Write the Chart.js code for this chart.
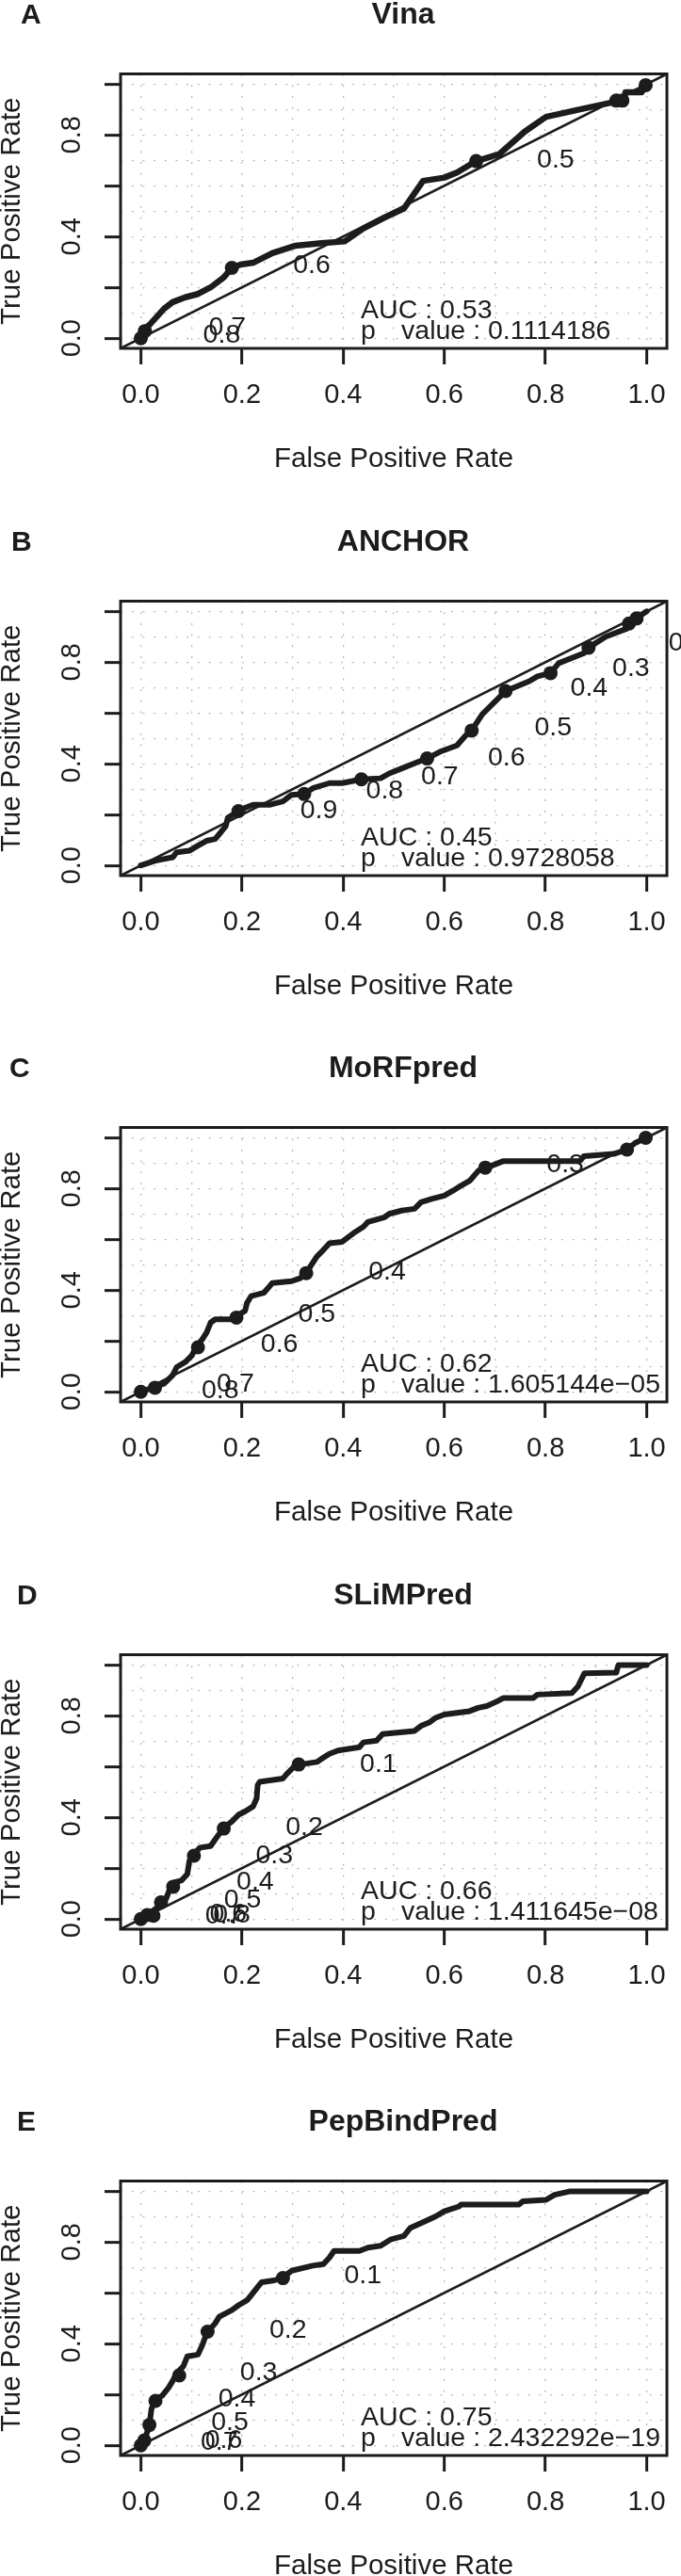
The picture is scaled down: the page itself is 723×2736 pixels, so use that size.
<!DOCTYPE html>
<html>
<head>
<meta charset="utf-8">
<script src="https://cdn.jsdelivr.net/npm/chart.js@4.4.1/dist/chart.umd.min.js"></script>
<style>
  html, body { margin: 0; padding: 0; background: #fff; }
  body { width: 723px; height: 2736px; overflow: hidden; position: relative; }
  canvas.panel { position: absolute; left: 0; }
</style>
</head>
<body>
<script>
// ROC panels A-E
const tickValues = [0, 0.2, 0.4, 0.6, 0.8, 1.0];
const gridValues = [0, 0.1, 0.2, 0.3, 0.4, 0.5, 0.6, 0.7, 0.8, 0.9, 1.0];
const xTickLabels = ["0.0", "0.2", "0.4", "0.6", "0.8", "1.0"];
const yTickLabels = ["0.0", "", "0.4", "", "0.8", ""];
const diagonal = [-0.04, 1.04];

const panelLetters = ["A", "B", "C", "D", "E"];
const panelTitles = ["Vina", "ANCHOR", "MoRFpred", "SLiMPred", "PepBindPred"];
const aucValues = ["0.53", "0.45", "0.62", "0.66", "0.75"];
const pValues = ["0.1114186", "0.9728058", "1.605144e\u221205", "1.411645e\u221208", "2.432292e\u221219"];

// [fpr, tpr]
const vinaRoc = [[0,0],[0.004,0.032],[0.017,0.052],[0.046,0.116],[0.063,0.142],[0.088,0.161],[0.113,0.174],
  [0.138,0.2],[0.164,0.239],[0.18,0.277],[0.197,0.29],[0.222,0.297],[0.26,0.335],[0.306,0.364],[0.357,0.374],
  [0.403,0.381],[0.44,0.432],[0.482,0.475],[0.52,0.51],[0.558,0.619],[0.6,0.632],[0.625,0.652],[0.663,0.697],
  [0.709,0.725],[0.759,0.813],[0.801,0.871],[0.86,0.897],[0.948,0.935],[0.956,0.942],[0.958,0.968],[0.99,0.968],[1,1]];
const vinaCuts = [[0,0],[0.008,0.028],[0.18,0.277],[0.663,0.697],[0.94,0.935],[0.952,0.935],[0.998,0.996]];
const vinaCutLabels = [["0.7",0.171,0.042],["0.8",0.160,0.010],["0.6",0.338,0.286],["0.5",0.820,0.701]];

const anchorRoc = [[0,0],[0.029,0.019],[0.063,0.032],[0.071,0.052],[0.096,0.058],[0.113,0.078],[0.130,0.097],
  [0.147,0.104],[0.155,0.123],[0.168,0.155],[0.172,0.188],[0.193,0.214],[0.206,0.227],[0.222,0.239],[0.256,0.239],
  [0.281,0.252],[0.298,0.278],[0.323,0.281],[0.340,0.304],[0.373,0.324],[0.398,0.324],[0.436,0.339],[0.474,0.343],
  [0.491,0.362],[0.516,0.382],[0.549,0.408],[0.566,0.421],[0.591,0.447],[0.625,0.472],[0.642,0.511],[0.654,0.531],
  [0.675,0.595],[0.705,0.654],[0.721,0.686],[0.768,0.725],[0.784,0.744],[0.810,0.757],[0.826,0.796],[0.876,0.835],
  [0.885,0.857],[0.919,0.900],[0.961,0.932],[0.973,0.964],[1,1]];
const anchorCuts = [[0.193,0.214],[0.323,0.281],[0.436,0.339],[0.566,0.421],[0.654,0.531],[0.721,0.686],
  [0.810,0.757],[0.885,0.857],[0.965,0.952],[0.98,0.972]];
const anchorCutLabels = [["0.9",0.352,0.216],["0.8",0.482,0.294],["0.7",0.591,0.350],["0.6",0.723,0.423],
  ["0.5",0.815,0.540],["0.4",0.886,0.696],["0.3",0.969,0.773],["0.2",1.08,0.875]];

const morfRoc = [[0,0],[0.029,0.019],[0.046,0.032],[0.063,0.065],[0.071,0.097],[0.088,0.117],[0.101,0.143],
  [0.109,0.175],[0.122,0.208],[0.130,0.233],[0.138,0.272],[0.147,0.285],[0.180,0.285],[0.189,0.298],[0.206,0.318],
  [0.210,0.350],[0.218,0.376],[0.243,0.389],[0.252,0.409],[0.260,0.428],[0.298,0.435],[0.315,0.447],[0.331,0.480],
  [0.348,0.532],[0.361,0.558],[0.373,0.584],[0.398,0.590],[0.411,0.610],[0.424,0.629],[0.440,0.649],[0.449,0.668],
  [0.482,0.687],[0.491,0.700],[0.516,0.713],[0.541,0.720],[0.554,0.746],[0.575,0.759],[0.600,0.772],[0.617,0.791],
  [0.633,0.811],[0.650,0.830],[0.667,0.869],[0.684,0.882],[0.717,0.908],[0.868,0.908],[0.876,0.927],[0.935,0.936],
  [0.961,0.953],[0.977,0.979],[1,1]];
const morfCuts = [[0,0],[0.028,0.016],[0.113,0.175],[0.189,0.292],[0.327,0.467],[0.681,0.882],[0.961,0.953],[0.998,0.999]];
const morfCutLabels = [["0.8",0.157,0.004],["0.7",0.187,0.029],["0.6",0.274,0.184],["0.5",0.348,0.305],
  ["0.4",0.487,0.470],["0.3",0.839,0.892]];

const slimRoc = [[0,0],[0.017,0.022],[0.038,0.054],[0.050,0.080],[0.059,0.126],[0.067,0.145],[0.080,0.151],
  [0.092,0.177],[0.096,0.229],[0.105,0.255],[0.117,0.281],[0.138,0.287],[0.147,0.313],[0.164,0.359],[0.180,0.384],
  [0.193,0.410],[0.206,0.423],[0.222,0.443],[0.229,0.475],[0.231,0.527],[0.235,0.540],[0.281,0.553],[0.289,0.572],
  [0.306,0.605],[0.348,0.618],[0.357,0.630],[0.373,0.650],[0.390,0.663],[0.432,0.676],[0.440,0.695],[0.466,0.702],
  [0.478,0.728],[0.541,0.740],[0.554,0.760],[0.570,0.773],[0.583,0.792],[0.600,0.805],[0.650,0.818],[0.667,0.831],
  [0.684,0.838],[0.705,0.857],[0.717,0.870],[0.776,0.870],[0.784,0.883],[0.852,0.889],[0.864,0.915],[0.877,0.967],
  [0.940,0.970],[0.944,0.999],[1,0.999]];
const slimCuts = [[0,0],[0.013,0.016],[0.025,0.013],[0.040,0.066],[0.064,0.127],[0.105,0.249],[0.164,0.356],[0.312,0.608]];
const slimCutLabels = [["0.1",0.470,0.607],["0.2",0.323,0.361],["0.3",0.264,0.249],["0.4",0.226,0.143],
  ["0.5",0.201,0.073],["0.6",0.173,0.020],["0.7",0.164,0.010],["0.8",0.180,0.014]];

const pepRoc = [[0,0],[0.008,0.026],[0.017,0.078],[0.021,0.143],[0.029,0.182],[0.042,0.195],[0.055,0.227],
  [0.063,0.253],[0.071,0.285],[0.084,0.311],[0.092,0.350],[0.113,0.357],[0.122,0.396],[0.130,0.441],[0.147,0.480],
  [0.155,0.506],[0.180,0.532],[0.193,0.551],[0.210,0.571],[0.218,0.590],[0.231,0.623],[0.239,0.642],[0.264,0.649],
  [0.281,0.661],[0.298,0.687],[0.340,0.707],[0.361,0.713],[0.373,0.739],[0.382,0.765],[0.432,0.765],[0.449,0.778],
  [0.474,0.785],[0.495,0.811],[0.520,0.824],[0.533,0.856],[0.562,0.882],[0.583,0.901],[0.600,0.921],[0.629,0.940],
  [0.633,0.947],[0.747,0.947],[0.755,0.960],[0.801,0.966],[0.818,0.986],[0.847,0.999],[1,0.999]];
const pepCuts = [[0,0],[0.007,0.019],[0.017,0.080],[0.029,0.175],[0.076,0.275],[0.132,0.447],[0.281,0.658]];
const pepCutLabels = [["0.1",0.439,0.668],["0.2",0.291,0.451],["0.3",0.233,0.285],["0.4",0.190,0.182],
  ["0.5",0.176,0.088],["0.6",0.164,0.019],["0.7",0.155,0.013]];

const rocCurves = [vinaRoc, anchorRoc, morfRoc, slimRoc, pepRoc];
const cutPoints = [vinaCuts, anchorCuts, morfCuts, slimCuts, pepCuts];
const cutLabels = [vinaCutLabels, anchorCutLabels, morfCutLabels, slimCutLabels, pepCutLabels];

// layout
const FONT = "'Liberation Sans', Arial, Helvetica, sans-serif";
const INK = "#1c1c1c";
const GRID = "#b9b9b9";
const PANEL_H = 560;
const PANEL_STEP = 559.5;
const letterX = [22, 12, 10, 18, 18];
const aucPos = { x: 0.435, valueX: 0.515, y1: 0.079, y2: -0.002 };

const toXY = (arr) => arr.map((p) => ({ x: p[0], y: p[1] }));
const tickText = (labels) => (v) => {
  const k = tickValues.findIndex((t) => Math.abs(t - v) < 1e-6);
  return k >= 0 ? labels[k] : "";
};
const tickColor = (c) => (c.tick && tickValues.some((t) => Math.abs(t - c.tick.value) < 1e-6)) ? INK : "rgba(0,0,0,0)";
const setTicks = (axis) => { axis.ticks = gridValues.map((v) => ({ value: v })); };

const plotBox = {
  id: "plotBox",
  afterDraw(chart) {
    const { ctx, chartArea: a } = chart;
    ctx.save();
    ctx.strokeStyle = INK;
    ctx.lineWidth = 3;
    ctx.strokeRect(a.left, a.top, a.right - a.left, a.bottom - a.top);
    ctx.restore();
  }
};

function panelText(i) {
  return {
    id: "panelText",
    afterDatasetsDraw(chart) {
      const { ctx, scales: { x, y } } = chart;
      ctx.save();
      ctx.fillStyle = INK;
      // cutoff labels
      ctx.font = "28.5px " + FONT;
      ctx.textAlign = "center";
      ctx.textBaseline = "middle";
      cutLabels[i].forEach(([t, fx, fy]) => ctx.fillText(t, x.getPixelForValue(fx), y.getPixelForValue(fy)));
      // AUC and p value
      ctx.textAlign = "left";
      ctx.textBaseline = "alphabetic";
      ctx.fillText("AUC : " + aucValues[i], x.getPixelForValue(aucPos.x), y.getPixelForValue(aucPos.y1));
      ctx.fillText("p", x.getPixelForValue(aucPos.x), y.getPixelForValue(aucPos.y2));
      ctx.fillText("value : " + pValues[i], x.getPixelForValue(aucPos.valueX), y.getPixelForValue(aucPos.y2));
      // title and panel letter
      ctx.font = "bold 32px " + FONT;
      ctx.textAlign = "center";
      ctx.fillText(panelTitles[i], 428, 25);
      ctx.font = "bold 30px " + FONT;
      ctx.textAlign = "left";
      ctx.fillText(panelLetters[i], letterX[i], 24.5);
      ctx.restore();
    }
  };
}

function axisOpts(isX) {
  return {
    type: "linear",
    min: -0.04,
    max: 1.04,
    afterBuildTicks: setTicks,
    afterFit: (axis) => { if (isX) axis.height = PANEL_H - 370; else axis.width = 128; },
    grid: { color: GRID, lineWidth: 1.3, tickLength: 17, tickWidth: 3, tickColor: tickColor, drawTicks: true },
    border: { display: false, dash: [2, 9.7] },
    ticks: {
      autoSkip: false,
      color: INK,
      font: { family: FONT, size: 29 },
      padding: isX ? 16 : 13.5,
      minRotation: isX ? 0 : 90,
      maxRotation: isX ? 0 : 90,
      crossAlign: isX ? "near" : "center",
      callback: tickText(isX ? xTickLabels : yTickLabels)
    },
    title: {
      display: true,
      text: isX ? "False Positive Rate" : "True Positive Rate",
      color: INK,
      font: { family: FONT, size: 29.5, lineHeight: 1 },
      padding: isX ? { top: 0, bottom: 57 } : { top: -2, bottom: 0 }
    }
  };
}

panelTitles.forEach((name, i) => {
  const canvas = document.createElement("canvas");
  canvas.className = "panel";
  canvas.width = 723;
  canvas.height = PANEL_H;
  canvas.style.width = "723px";
  canvas.style.height = PANEL_H + "px";
  canvas.style.top = Math.round(i * PANEL_STEP) + "px";
  document.body.appendChild(canvas);

  new Chart(canvas, {
    type: "scatter",
    data: {
      datasets: [
        { data: toXY([[diagonal[0], diagonal[0]], [diagonal[1], diagonal[1]]]), showLine: true,
          borderColor: INK, borderWidth: 2.6, pointRadius: 0 },
        { data: toXY(rocCurves[i]), showLine: true, borderColor: INK, borderWidth: i === 0 ? 6.5 : 6,
          borderJoinStyle: "round", borderCapStyle: "round", pointRadius: 0, tension: 0 },
        { data: toXY(cutPoints[i]), showLine: false, pointRadius: 7.5, pointBackgroundColor: INK,
          pointBorderWidth: 0, backgroundColor: INK }
      ]
    },
    options: {
      responsive: false,
      animation: false,
      devicePixelRatio: 1,
      layout: { padding: { top: 78.5, right: 4, left: 0, bottom: 0 } },
      plugins: { legend: { display: false }, tooltip: { enabled: false }, title: { display: false } },
      scales: { x: axisOpts(true), y: axisOpts(false) }
    },
    plugins: [panelText(i), plotBox]
  });
});
</script>
</body>
</html>
